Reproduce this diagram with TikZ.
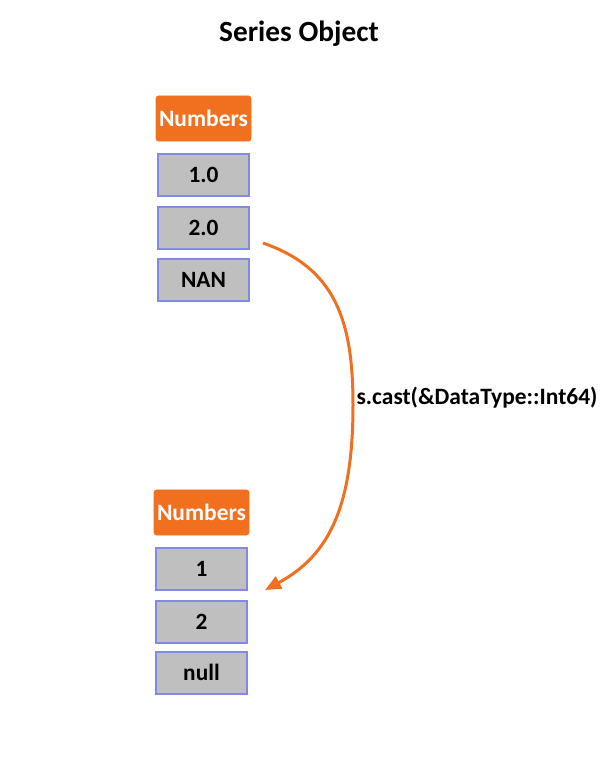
\documentclass[tikz,border=0pt]{standalone}
\usepackage{fontspec}
\setmainfont{Carlito}
\usepackage{tikz}
\usepackage{xcolor}
\usetikzlibrary{arrows.meta}

\definecolor{castorange}{RGB}{241,112,32}
\definecolor{cellgray}{RGB}{191,191,191}
\definecolor{cellblue}{RGB}{128,138,228}

\tikzset{
  header/.style={fill=castorange, draw=castorange, rounded corners=2pt, minimum width=71.25pt, minimum height=34pt, inner sep=0pt, text=white, font=\bfseries\fontsize{17.6}{20}\selectfont},
  cell/.style={fill=cellgray, draw=cellblue, line width=1.5pt, minimum width=68.5pt, minimum height=31.5pt, inner sep=0pt, font=\bfseries\fontsize{17.5}{20}\selectfont}
}

\begin{document}
\begin{tikzpicture}[x=0.75pt,y=0.75pt,yscale=-1,xscale=1]
\useasboundingbox (0,0) rectangle (600,779);

% Title
\node (title) at (299,34) {\bfseries\fontsize{22}{26}\selectfont Series Object};

% Top column
\node [header] (numtop) at (203.5,118.5) {Numbers};
\node [cell] (onef) at (203.5,174.5) {1.0};
\node [cell] (twof) at (203.5,227.5) {2.0};
\node [cell] (nan) at (203.5,279.5) {NAN};

% Bottom column
\node [header] (numbot) at (201.5,512.5) {Numbers};
\node [cell] (onei) at (201.5,568.5) {1};
\node [cell] (twoi) at (201.5,621.5) {2};
\node [cell] (null) at (201.5,672.5) {null};

% Cast arrow
\coordinate (castfrom) at (263,243);
\coordinate (castto) at (265,590);
\draw [castorange, line width=2.25pt, -{Triangle[length=12pt,width=10pt]}] (castfrom) .. controls (335,268) and (353,320) .. (353,405) .. controls (353,505) and (330,555) .. (castto);

% Text Node
\node [anchor=west, inner sep=1pt, font=\bfseries\fontsize{17.6}{20}\selectfont] (castlabel) at (355,398) {s.cast(\&DataType::Int64)};

\end{tikzpicture}
\end{document}
